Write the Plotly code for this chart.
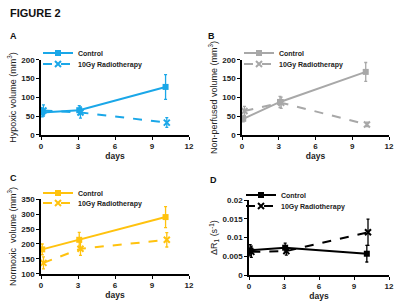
import plotly.graph_objects as go

days_ctrl = [0.1, 3.1, 10.1]
days_rt = [0.2, 3.2, 10.2]

hyp_ctrl = [60, 66, 128]
hyp_ctrl_err = [12, 12, 33]
hyp_rt = [65, 60, 33]
hyp_rt_err = [15, 15, 13]

np_ctrl = [43, 88, 168]
np_ctrl_err = [8, 15, 25]
np_rt = [64, 86, 28]
np_rt_err = [12, 15, 6]

nx_ctrl = [182, 214, 290]
nx_ctrl_err = [18, 25, 35]
nx_rt = [137, 184, 214]
nx_rt_err = [20, 22, 24]

dr_ctrl = [0.0066, 0.0073, 0.0057]
dr_ctrl_err = [0.0015, 0.0012, 0.0022]
dr_rt = [0.0062, 0.0064, 0.0114]
dr_rt_err = [0.0015, 0.0011, 0.0035]

x_ticks = [0, 3, 6, 9, 12]

W, H = 400, 304

panels = [
    dict(key="", xd=[0.1025, 0.4725], yd=[0.556, 0.803], c="#1AA7E8",
         ctrl=hyp_ctrl, ce=hyp_ctrl_err, rt=hyp_rt, re=hyp_rt_err,
         yr=[0, 200], dt=50, ytitle="Hypoxic volume (mm<sup>3</sup>)",
         leg=(38, 53, 64)),
    dict(key="2", xd=[0.605, 0.9725], yd=[0.556, 0.803], c="#A8A8A8",
         ctrl=np_ctrl, ce=np_ctrl_err, rt=np_rt, re=np_rt_err,
         yr=[0, 200], dt=50, ytitle="Non-perfused volume (mm<sup>3</sup>)",
         leg=(239, 53, 64)),
    dict(key="3", xd=[0.1025, 0.4725], yd=[0.099, 0.345], c="#FFC20E",
         ctrl=nx_ctrl, ce=nx_ctrl_err, rt=nx_rt, re=nx_rt_err,
         yr=[100, 350], dt=50, ytitle="Normoxic  volume (mm<sup>3</sup>)",
         leg=(38, 193, 203)),
    dict(key="4", xd=[0.6225, 0.9725], yd=[0.095, 0.342], c="#000000",
         ctrl=dr_ctrl, ce=dr_ctrl_err, rt=dr_rt, re=dr_rt_err,
         yr=[0, 0.02], dt=0.005, ytitle="ΔR<sub>1</sub> (s<sup>-1</sup>)",
         leg=(241, 195, 206)),
]

fig = go.Figure()
layout = dict(width=W, height=H, margin=dict(l=0, r=0, t=0, b=0),
              paper_bgcolor="white", plot_bgcolor="white", autosize=False,
              font=dict(family="Liberation Sans, Arial", size=8, color="#222"))

for i, p in enumerate(panels):
    k = p["key"]
    xa = "x" + k
    ya = "y" + k
    leg_c = "legend" + str(2 * i + 1) if i > 0 else "legend"
    leg_r = "legend" + str(2 * i + 2)
    fig.add_trace(go.Scatter(
        x=days_ctrl, y=p["ctrl"], xaxis=xa, yaxis=ya, legend=leg_c,
        name="<b>Control</b>", mode="lines+markers", showlegend=True,
        line=dict(color=p["c"], width=2),
        marker=dict(symbol="square", size=6, color=p["c"]),
        error_y=dict(type="data", array=p["ce"], color=p["c"], thickness=1.3, width=1.5),
    ))
    fig.add_trace(go.Scatter(
        x=days_rt, y=p["rt"], xaxis=xa, yaxis=ya, legend=leg_r,
        name="<b>10Gy Radiotherapy</b>", mode="lines+markers", showlegend=True,
        line=dict(color=p["c"], width=2, dash="dash"),
        marker=dict(symbol="x-thin", size=6, color=p["c"], line=dict(color=p["c"], width=2)),
        error_y=dict(type="data", array=p["re"], color=p["c"], thickness=1.3, width=1.5),
    ))
    layout["xaxis" + k] = dict(
        domain=p["xd"], anchor=ya, range=[0, 12], tickvals=x_ticks,
        showline=True, linecolor="black", linewidth=1.5, ticks="outside",
        ticklen=3, tickcolor="black", showgrid=False, zeroline=False,
        ticklabeloverflow="allow", automargin=False,
        tickfont=dict(size=8, weight="bold", color="#222"),
        title=dict(text="<b>days</b>", standoff=2, font=dict(size=8.5)),
    )
    layout["yaxis" + k] = dict(
        domain=p["yd"], anchor=xa, range=p["yr"], dtick=p["dt"],
        showline=True, linecolor="black", linewidth=1.5, ticks="outside",
        ticklen=3, tickcolor="black", showgrid=False, zeroline=False,
        ticklabeloverflow="allow", automargin=False,
        tickfont=dict(size=8, weight="bold", color="#222"),
        title=dict(text=p["ytitle"], standoff=3, font=dict(size=9)),
    )
    lx, ly1, ly2 = p["leg"]
    for name, yy in ((leg_c, ly1), (leg_r, ly2)):
        layout[name] = dict(
            x=lx / W, y=1 - yy / H, xanchor="left", yanchor="middle",
            bgcolor="rgba(0,0,0,0)", borderwidth=0,
            font=dict(size=7, family="Liberation Sans, Arial", color="#222"),
            itemwidth=30, visible=True,
        )

annotations = [
    dict(text="<b>FIGURE 2</b>", x=8, y=13, size=11),
    dict(text="<b>A</b>", x=8, y=36, size=9),
    dict(text="<b>B</b>", x=206, y=36, size=9),
    dict(text="<b>C</b>", x=8, y=178, size=9),
    dict(text="<b>D</b>", x=208, y=180, size=9),
]
layout["annotations"] = [
    dict(text=a["text"], x=a["x"] / W, y=1 - a["y"] / H, xref="paper", yref="paper",
         xanchor="left", yanchor="middle", showarrow=False,
         font=dict(size=a["size"], color="#111", family="Liberation Sans, Arial"))
    for a in annotations
]

fig.update_layout(**layout)
fig.write_html("out.html", config={"displayModeBar": False},
               post_script="document.body.style.margin='0';")
